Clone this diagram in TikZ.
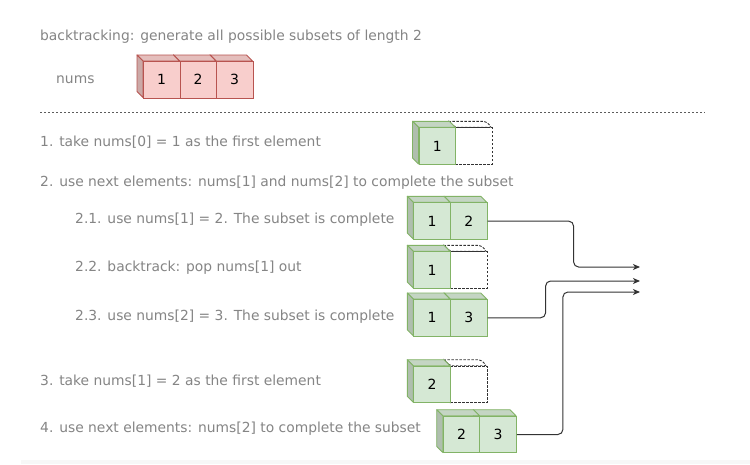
\documentclass[tikz,border=0pt]{standalone}
\usepackage{fontspec}
\setmainfont{DejaVu Sans}
\usetikzlibrary{arrows.meta}
\definecolor{gfillc}{HTML}{D5E8D4}
\definecolor{gstrokec}{HTML}{82B366}
\definecolor{rfillc}{HTML}{F8CECC}
\definecolor{rstrokec}{HTML}{B85450}
\definecolor{txtc}{HTML}{858585}
\definecolor{linec}{HTML}{333333}
\colorlet{gtopc}{gfillc!92!black}
\colorlet{gleftc}{gfillc!82!black}
\colorlet{rtopc}{rfillc!92!black}
\colorlet{rleftc}{rfillc!82!black}
\def\cw{36.7}
\newcommand{\mycube}[5]{%
  \path[#2top] (#3,#4) -- ++(-6,-6) -- ++(\cw,0) -- ++(6,6) -- cycle;
  \path[#2left] (#3,#4) -- ++(-6,-6) -- ++(0,\cw) -- ++(6,6) -- cycle;
  \node[#2front, anchor=north west] (#1) at (#3,#4) {#5};
}
\begin{document}
\begin{tikzpicture}[x=1pt,y=-1pt,
  txt/.style={text=txtc, font=\fontsize{13.85}{16}\selectfont, anchor=west, inner sep=0pt},
  cellbase/.style={minimum width=\cw pt, minimum height=\cw pt, inner sep=0pt, line width=0.9pt,
    font=\fontsize{14}{16}\selectfont, text=black},
  gfront/.style={cellbase, draw=gstrokec, fill=gfillc},
  gtop/.style={draw=gstrokec, fill=gtopc, line width=0.9pt, line join=round},
  gleft/.style={draw=gstrokec, fill=gleftc, line width=0.9pt, line join=round},
  rfront/.style={cellbase, draw=rstrokec, fill=rfillc},
  rtop/.style={draw=rstrokec, fill=rtopc, line width=0.9pt, line join=round},
  rleft/.style={draw=rstrokec, fill=rleftc, line width=0.9pt, line join=round},
  dfront/.style={cellbase, draw=linec, fill=white, dash pattern=on 2.5pt off 1.5pt},
  dtop/.style={draw=linec, fill=white, line width=0.9pt, dash pattern=on 2.5pt off 1.5pt, rounded corners=2pt},
  dleft/.style={draw=linec, fill=white, line width=0.9pt, dash pattern=on 2.5pt off 1.5pt},
  conn/.style={draw=linec, line width=1pt, rounded corners=5pt, -{Stealth[length=7pt,width=6pt,inset=2pt]}}
]
\useasboundingbox (0,0) rectangle (750,464);
\fill[white] (0,0) rectangle (750,464);
\fill[gray!6] (21,459.5) rectangle (750,464);

% title and nums
\node[txt] (title) at (40,37) {backtracking: generate all possible subsets of length 2};
\node[txt] (numslbl) at (56,79.5) {nums};
\def\cw{36.5}
\mycube{n3}{r}{216}{61}{3}
\mycube{n2}{r}{179.5}{61}{2}
\mycube{n1}{r}{143}{61}{1}
\def\cw{36.7}

% separator
\coordinate (sepL) at (40,112.3);
\coordinate (sepR) at (705,112.3);
\draw[linec!80, line width=0.8pt, dash pattern=on 2pt off 2pt] (sepL) -- (sepR);

% step texts
\node[txt] (s1) at (40,141.7) {1. take nums[0] = 1 as the first element};
\node[txt] (s2) at (40,183) {2. use next elements: nums[1] and nums[2] to complete the subset};
\node[txt] (s21) at (75,219.5) {2.1. use nums[1] = 2. The subset is complete};
\node[txt] (s22) at (75,268) {2.2. backtrack: pop nums[1] out};
\node[txt] (s23) at (75,316.7) {2.3. use nums[2] = 3. The subset is complete};
\node[txt] (s3) at (40,380.7) {3. take nums[1] = 2 as the first element};
\node[txt] (s4) at (40,429) {4. use next elements: nums[2] to complete the subset};

% box A (step 1)
\mycube{a2}{d}{455}{127.3}{}
\mycube{a1}{g}{418.5}{127.3}{1}
% box B (2.1)
\mycube{b12}{g}{450}{202.3}{2}
\mycube{b11}{g}{413.3}{202.3}{1}
% box C (2.2)
\mycube{c2}{d}{450}{251.3}{}
\mycube{c1}{g}{413.3}{251.3}{1}
% box D (2.3)
\mycube{d13}{g}{450}{299}{3}
\mycube{d11}{g}{413.3}{299}{1}
% box E (3)
\mycube{e2}{d}{450}{365.7}{}
\mycube{e1}{g}{413.3}{365.7}{2}
% box F (4)
\mycube{f23}{g}{479.3}{415.7}{3}
\mycube{f22}{g}{442.7}{415.7}{2}

% connectors
\coordinate (t1) at (640,267);
\coordinate (t2) at (640,281);
\coordinate (t3) at (640,292);
\draw[conn] (b12.east) -- ++(86,0) |- (t1);
\draw[conn] (d13.east) -- ++(58,0) |- (t2);
\draw[conn] (f23.east) -- ++(46,0) |- (t3);
\end{tikzpicture}
\end{document}
